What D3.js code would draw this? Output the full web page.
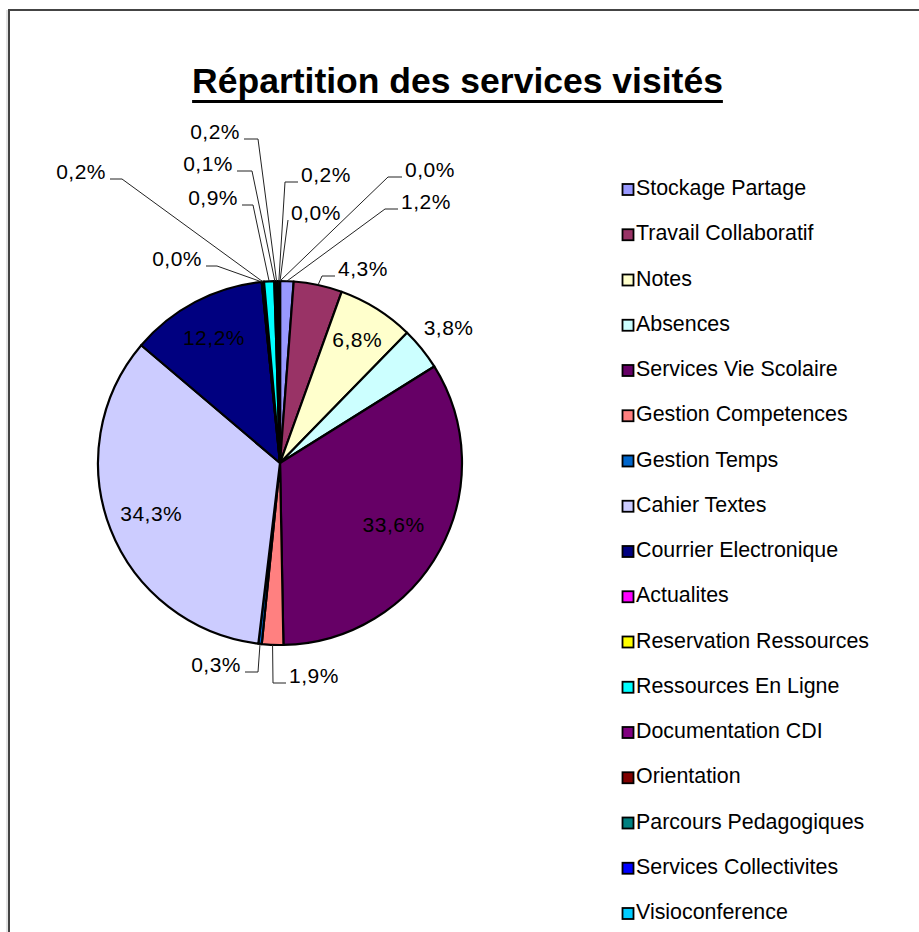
<!DOCTYPE html>
<html>
<head>
<meta charset="utf-8">
<script src="https://cdn.jsdelivr.net/npm/d3@7"></script>
<style>
  body { margin: 0; background: #fff; }
  svg { display: block; }
  text { font-family: "Liberation Sans", Arial, sans-serif; }
</style>
</head>
<body>
<div id="chart"></div>
<script>
// data (percent of visits)
var title = "Répartition des services visités";

var categories = [
  "Stockage Partage", "Travail Collaboratif", "Notes", "Absences",
  "Services Vie Scolaire", "Gestion Competences", "Gestion Temps",
  "Cahier Textes", "Courrier Electronique", "Actualites",
  "Reservation Ressources", "Ressources En Ligne", "Documentation CDI",
  "Orientation", "Parcours Pedagogiques", "Services Collectivites",
  "Visioconference"
];

var values = [1.2, 4.3, 6.8, 3.8, 33.6, 1.9, 0.3, 34.3, 12.2, 0.0, 0.2, 0.9, 0.1, 0.2, 0.2, 0.0, 0.0];

var colors = [
  "#9999FF", "#993366", "#FFFFCC", "#CCFFFF", "#660066", "#FF8080",
  "#0066CC", "#CCCCFF", "#000080", "#FF00FF", "#FFFF00", "#00FFFF",
  "#800080", "#800000", "#008080", "#0000FF", "#00CCFF"
];

// where Excel put each data label (inside = radial factor, out = leader elbow + horizontal end)
var labelLayout = [
  {type: "out", ex: 385, ey: 209, hx: 398},
  {type: "out", ex: 322, ey: 276, hx: 335},
  {type: "in", k: 0.8},
  {type: "in", k: 1.19},
  {type: "in", k: 0.71},
  {type: "out", ex: 273, ey: 683, hx: 286},
  {type: "out", ex: 258, ey: 672, hx: 245},
  {type: "in", k: 0.76},
  {type: "in", k: 0.78},
  {type: "out", ex: 217, ey: 266, hx: 206},
  {type: "out", ex: 122, ey: 179, hx: 110},
  {type: "out", ex: 253, ey: 205, hx: 242},
  {type: "out", ex: 252, ey: 171, hx: 237},
  {type: "out", ex: 258, ey: 139, hx: 244},
  {type: "out", ex: 285, ey: 182, hx: 298},
  {type: "out", ex: 288, ey: 220, hx: 288},
  {type: "out", ex: 388, ey: 177, hx: 402}
];

var width = 919,
    height = 932,
    cx = 280,
    cy = 463,
    radius = 182,
    fmt = d3.format(".1f");

var svg = d3.select("#chart")
  .append("svg")
    .attr("width", width)
    .attr("height", height);

svg.append("rect")
  .attr("width", width).attr("height", height)
  .style("fill", "#fff");

// chart area frame (only top and left edges are visible)
svg.append("line")
  .attr("x1", 7).attr("x2", 7).attr("y1", 10).attr("y2", height)
  .style("stroke", "#c8c8c8").style("stroke-width", 1);
svg.append("path")
  .attr("d", "M9," + height + "V10H" + width)
  .style("fill", "none")
  .style("stroke", "#444")
  .style("stroke-width", 2);

// title
var t = svg.append("text")
  .attr("x", 457.5)
  .attr("y", 93)
  .attr("text-anchor", "middle")
  .style("font-size", "35.5px")
  .style("font-weight", "bold")
  .style("fill", "#000")
  .text(title);
var tw = t.node().getComputedTextLength();
svg.append("line")
  .attr("x1", 457.5 - tw / 2).attr("x2", 457.5 + tw / 2)
  .attr("y1", 101.5).attr("y2", 101.5)
  .style("stroke", "#000").style("stroke-width", 3);

// pie
var pie = d3.pie().sort(null).value(function(d) { return d; });
var arcs = pie(values);
var arc = d3.arc().innerRadius(0).outerRadius(radius);

var g = svg.append("g")
  .attr("transform", "translate(" + cx + "," + cy + ")");

g.selectAll("path.slice")
  .data(arcs)
  .enter().append("path")
    .attr("class", "slice")
    .attr("d", arc)
    .style("fill", function(d, i) { return colors[i]; })
    .style("stroke", "#000")
    .style("stroke-width", 2.2)
    .style("stroke-linejoin", "round");

// data labels
function label(v) { return fmt(v).replace(".", ",") + "%"; }
function edgePoint(d, k) {
  var a = (d.startAngle + d.endAngle) / 2;
  return [cx + Math.sin(a) * radius * k, cy - Math.cos(a) * radius * k];
}

var labels = svg.append("g")
  .style("font-size", "21px")
  .style("letter-spacing", "0.5px")
  .style("fill", "#000");

arcs.forEach(function(d, i) {
  var lay = labelLayout[i];
  if (lay.type == "in") {
    var p = edgePoint(d, lay.k);
    labels.append("text")
      .attr("x", p[0]).attr("y", p[1])
      .attr("dy", "0.36em")
      .attr("text-anchor", "middle")
      .text(label(values[i]));
  } else {
    var s = edgePoint(d, 1);
    labels.append("path")
      .attr("d", "M" + s[0] + "," + s[1] + "L" + lay.ex + "," + lay.ey + "H" + lay.hx)
      .style("fill", "none")
      .style("stroke", "#222")
      .style("stroke-width", 1);
    var left = lay.hx < lay.ex;
    labels.append("text")
      .attr("x", left ? lay.hx - 4 : lay.hx + 3)
      .attr("y", lay.ey)
      .attr("text-anchor", left ? "end" : "start")
      .text(label(values[i]));
  }
});

// legend
var legend = svg.append("g")
  .attr("transform", "translate(622,195)");

var rows = legend.selectAll("g")
  .data(categories)
  .enter().append("g")
    .attr("transform", function(d, i) { return "translate(0," + (i * 45.25) + ")"; });

rows.append("rect")
  .attr("x", 0.5).attr("y", -11)
  .attr("width", 11).attr("height", 11)
  .style("fill", function(d, i) { return colors[i]; })
  .style("stroke", "#000")
  .style("stroke-width", 1.8);

rows.append("text")
  .attr("x", 14)
  .attr("y", 0)
  .style("font-size", "21.4px")
  .style("fill", "#000")
  .text(function(d) { return d; });
</script>
</body>
</html>
